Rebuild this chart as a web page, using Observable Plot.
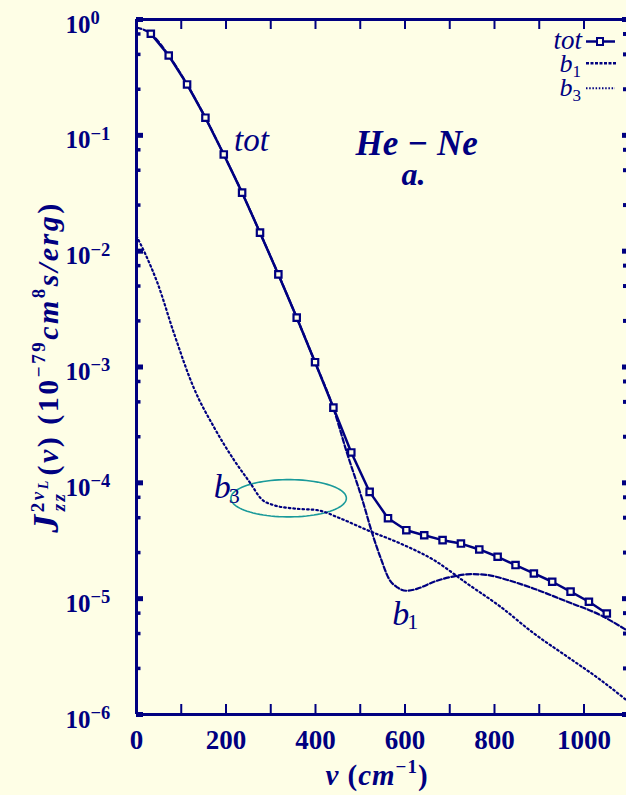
<!DOCTYPE html>
<html><head><meta charset="utf-8">
<script src="https://cdn.jsdelivr.net/npm/d3@7"></script>
<script src="https://cdn.jsdelivr.net/npm/@observablehq/plot@0.6"></script>
<style>
html,body{margin:0;padding:0;background:#fefee6;}
#chart{width:626px;height:795px;overflow:hidden;}
</style></head><body><div id="chart"></div>
<script>
// ---- data ----
const totX = [32,72,113,154,195,236,276,317,358,399,440,480,521,562,603,643,684,725,766,807,847,888,929,970,1011,1051];
const totY = [0.753,0.489,0.275,0.142,0.0684,0.032,0.01445,0.0063,0.00267,0.0011,4.46e-4,1.83e-4,8.35e-5,4.95e-5,3.9e-5,3.53e-5,3.2e-5,2.99e-5,2.66e-5,2.3e-5,1.95e-5,1.65e-5,1.4e-5,1.15e-5,9.4e-6,7.45e-6];
const b1X = [0,32,72,113,154,195,236,276,317,358,399,440,470,505,527,546,564,583,604,628,665,710,747,784,829,888,963,1037,1095];
const b1Y = [0.853,0.753,0.489,0.275,0.142,0.0684,0.032,0.01445,0.0063,0.00267,0.0011,4.4e-4,1.83e-4,7.08e-5,3.64e-5,2.22e-5,1.49e-5,1.25e-5,1.17e-5,1.22e-5,1.40e-5,1.56e-5,1.63e-5,1.60e-5,1.45e-5,1.22e-5,9.4e-6,7.2e-6,5.35e-6];
const b3X = [0,20,47,84,128,173,218,255,278,307,352,404,456,516,590,665,739,814,888,963,1037,1095];
const b3Y = [0.01349,0.0094,0.0053,0.00194,6.6e-4,3.03e-4,1.57e-4,9.86e-5,7.33e-5,6.41e-5,6.0e-5,5.81e-5,4.92e-5,3.9e-5,2.99e-5,2.15e-5,1.35e-5,8.49e-6,5.01e-6,3.15e-6,1.99e-6,1.33e-6];
const xTicks = [0,100,200,300,400,500,600,700,800,900,1000];
const xTickLabels = [0,200,400,600,800,1000];
const yMajor = [1,1e-1,1e-2,1e-3,1e-4,1e-5,1e-6];
const yExp = ["0","\u22121","\u22122","\u22123","\u22124","\u22125","\u22126"];
const yMinorMult = [7.5,5,2.5];
// ellipse annotation (center / radii in data space, log decades for y)
const ellCenter = {x: 340, logy: -4.133};
const ellRadius = {x: 129, logy: 0.161};

// ---- build tables ----
const tot = totX.map((x,i)=>({x, y: totY[i]}));
const b1 = b1X.map((x,i)=>({x, y: b1Y[i]}));
const b3 = b3X.map((x,i)=>({x, y: b3Y[i]}));
const yMinor = yMajor.slice(1).flatMap(v => yMinorMult.map(m => m*v));
const ellipse = d3.range(0, 361, 4).map(a => ({
  x: ellCenter.x + ellRadius.x*Math.cos(a*Math.PI/180),
  y: Math.pow(10, ellCenter.logy + ellRadius.logy*Math.sin(a*Math.PI/180))
}));

const W=626, H=795, mL=136, mR=0, mT=19, mB=81;
const innerW = W-mL-mR, innerH = H-mT-mB;
const navy = "#000080", bg = "#fefee6", teal = "#1a9a9a";
const FONT = "Liberation Serif, Times New Roman, serif";

const plot = Plot.plot({
  width: W, height: H,
  marginLeft: mL, marginRight: mR, marginTop: mT, marginBottom: mB,
  style: {background: bg, fontFamily: FONT, color: navy},
  x: {domain: [0, 1095], axis: null},
  y: {type: "log", domain: [1e-6, 1], axis: null},
  marks: [
    // frame (left, bottom, top)
    Plot.ruleX([0], {stroke: navy, strokeWidth: 3}),
    Plot.ruleY([1e-6, 1], {stroke: navy, strokeWidth: 3}),
    // x ticks bottom / top
    Plot.tickX(xTicks, {x: d=>d, insetTop: innerH-10, stroke: navy, strokeWidth: 2}),
    Plot.tickX(xTicks, {x: d=>d, insetBottom: innerH-10, stroke: navy, strokeWidth: 2}),
    // y ticks left / right
    Plot.tickY(yMajor, {y: d=>d, insetRight: innerW-7, stroke: navy, strokeWidth: 5}),
    Plot.tickY(yMinor, {y: d=>d, insetRight: innerW-4.5, stroke: navy, strokeWidth: 3.5}),
    Plot.tickY(yMajor, {y: d=>d, insetLeft: innerW-4, stroke: navy, strokeWidth: 5}),
    Plot.tickY(yMinor, {y: d=>d, insetLeft: innerW-3, stroke: navy, strokeWidth: 4}),
    // tick labels
    Plot.text(yMajor, {y: d=>d, text: ()=>"10", frameAnchor: "left", textAnchor: "start", dx: -71, dy: 5, lineAnchor: "middle", fontSize: 25, fontWeight: "bold", fill: navy}),
    Plot.text(yMajor, {y: d=>d, text: (d,i)=>yExp[i], frameAnchor: "left", textAnchor: "start", dx: -46, dy: -1.5, lineAnchor: "middle", fontSize: 18.5, fontWeight: "bold", fill: navy}),
    Plot.text(xTickLabels, {x: d=>d, text: d=>String(d), frameAnchor: "bottom", dy: 25.5, lineAnchor: "middle", fontSize: 27, fontWeight: "bold", fill: navy}),
    // ellipse
    Plot.line(ellipse, {x: "x", y: "y", stroke: teal, strokeWidth: 1.6}),
    // series
    Plot.line(b3, {x: "x", y: "y", stroke: navy, strokeWidth: 2.2, strokeDasharray: "1.6,3", curve: "monotone-x"}),
    Plot.line(b1, {x: "x", y: "y", stroke: navy, strokeWidth: 2.2, strokeDasharray: "5,2.5", curve: "monotone-x"}),
    Plot.line(tot, {x: "x", y: "y", stroke: navy, strokeWidth: 2.5}),
    Plot.dot(tot, {x: "x", y: "y", symbol: "square", r: 3.6, stroke: navy, strokeWidth: 2.2, fill: bg}),
    // annotations
    Plot.text([{x: 257, y: 0.0904}], {x: "x", y: "y", text: ()=>"tot", fontSize: 33, fontStyle: "italic", lineAnchor: "middle", fill: navy}),
    Plot.text([{x: 626, y: 0.0851}], {x: "x", y: "y", text: ()=>"He \u2212 Ne", fontSize: 35, fontStyle: "italic", fontWeight: "bold", lineAnchor: "middle", fill: navy}),
    Plot.text([{x: 619, y: 0.0455}], {x: "x", y: "y", text: ()=>"a.", fontSize: 32, fontStyle: "italic", fontWeight: "bold", lineAnchor: "middle", fill: navy}),
    Plot.text([{x: 172.5, y: 7.36e-5}], {x: "x", y: "y", text: ()=>"b", textAnchor: "start", lineAnchor: "bottom", fontSize: 34, fontStyle: "italic", fill: navy}),
    Plot.text([{x: 172.5, y: 7.36e-5}], {x: "x", y: "y", text: ()=>"3", textAnchor: "start", lineAnchor: "bottom", dx: 15, dy: 5, fontSize: 22, fill: navy}),
    Plot.text([{x: 571.8, y: 5.9e-6}], {x: "x", y: "y", text: ()=>"b", textAnchor: "start", lineAnchor: "bottom", fontSize: 34, fontStyle: "italic", fill: navy}),
    Plot.text([{x: 571.8, y: 5.9e-6}], {x: "x", y: "y", text: ()=>"1", textAnchor: "start", lineAnchor: "bottom", dx: 15, dy: 4, fontSize: 22, fill: navy})
  ]
});
document.getElementById("chart").appendChild(plot);

// ---- legend and axis titles ----
const svg = d3.select(plot);
const g = svg.append("g").attr("fill", navy).attr("font-family", FONT);
// legend
g.append("text").attr("x", 582).attr("y", 49).attr("text-anchor", "end").attr("font-size", 27).attr("font-style", "italic").text("tot");
g.append("line").attr("x1", 586).attr("x2", 615).attr("y1", 41.5).attr("y2", 41.5).attr("stroke", navy).attr("stroke-width", 2.5);
g.append("rect").attr("x", 597).attr("y", 38).attr("width", 6).attr("height", 7).attr("fill", bg).attr("stroke", navy).attr("stroke-width", 2);
const l1 = g.append("text").attr("x", 581).attr("y", 72).attr("text-anchor", "end").attr("font-size", 26).attr("font-style", "italic");
l1.append("tspan").text("b");
l1.append("tspan").attr("font-size", 17).attr("font-style", "normal").attr("dy", 5).text("1");
g.append("line").attr("x1", 586).attr("x2", 616).attr("y1", 63.3).attr("y2", 63.3).attr("stroke", navy).attr("stroke-width", 2.5).attr("stroke-dasharray", "3,1.5");
const l3 = g.append("text").attr("x", 581).attr("y", 96).attr("text-anchor", "end").attr("font-size", 26).attr("font-style", "italic");
l3.append("tspan").text("b");
l3.append("tspan").attr("font-size", 17).attr("font-style", "normal").attr("dy", 5).text("3");
g.append("line").attr("x1", 586).attr("x2", 615).attr("y1", 88.3).attr("y2", 88.3).attr("stroke", navy).attr("stroke-width", 2).attr("stroke-dasharray", "1.5,1.7");

// x title
const xt = g.append("text").attr("x", 377).attr("y", 785).attr("text-anchor", "middle").attr("font-size", 29).attr("font-weight", "bold").attr("letter-spacing", 1);
xt.append("tspan").attr("font-style", "italic").text("\u03bd ");
xt.append("tspan").text("(");
xt.append("tspan").attr("font-style", "italic").text("cm");
xt.append("tspan").attr("font-size", 19).attr("dy", -12).text("\u22121");
xt.append("tspan").attr("dy", 12).text(")");

// y title (rotated)
const yt = g.append("text").attr("transform", "translate(58,367) rotate(-90)").attr("text-anchor", "middle").attr("font-size", 30).attr("font-weight", "bold").attr("letter-spacing", 2.5);
yt.append("tspan").attr("font-style", "italic").attr("font-size", 36).text("J");
yt.append("tspan").attr("font-size", 19).attr("dy", -14).text("2");
yt.append("tspan").attr("font-size", 19).attr("font-style", "italic").text("\u03bd");
yt.append("tspan").attr("font-size", 14).attr("font-style", "italic").attr("dy", 4).text("L");
yt.append("tspan").attr("font-size", 19).attr("font-style", "italic").attr("dx", -33).attr("dy", 17).text("zz");
yt.append("tspan").attr("dx", 16).attr("dy", -7).text("(");
yt.append("tspan").attr("font-style", "italic").text("\u03bd");
yt.append("tspan").text(") (10");
yt.append("tspan").attr("font-size", 19).attr("dy", -13).text("\u221279");
yt.append("tspan").attr("font-style", "italic").attr("dy", 13).text("cm");
yt.append("tspan").attr("font-size", 19).attr("dy", -13).text("8");
yt.append("tspan").attr("font-style", "italic").attr("dy", 13).text("s/erg");
yt.append("tspan").text(")");
</script></body></html>
